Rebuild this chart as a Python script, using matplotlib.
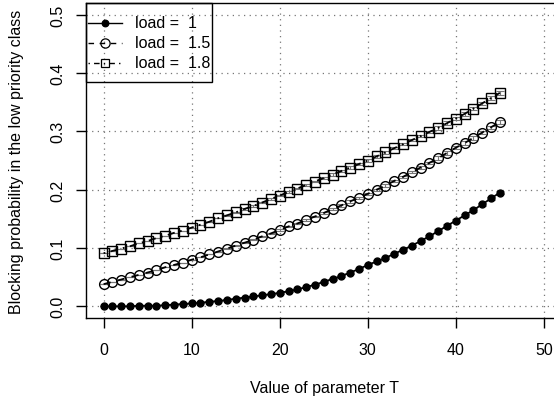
import matplotlib
matplotlib.use("Agg")
import matplotlib.pyplot as plt
from matplotlib.lines import Line2D
from matplotlib.patches import Rectangle

plt.rcParams['font.family'] = ['Liberation Sans', 'DejaVu Sans']

T = list(range(0, 46))

load_1 = [0.000, 0.000, 0.000, 0.000, 0.001, 0.001, 0.001, 0.002, 0.003, 0.004,
          0.005, 0.006, 0.008, 0.009, 0.011, 0.013, 0.015, 0.017, 0.019, 0.021,
          0.023, 0.026, 0.029, 0.033, 0.037, 0.042, 0.047, 0.052, 0.058, 0.064,
          0.071, 0.077, 0.083, 0.090, 0.097, 0.104, 0.112, 0.120, 0.129, 0.138,
          0.147, 0.156, 0.165, 0.175, 0.185, 0.195]
load_15 = [0.038, 0.042, 0.046, 0.050, 0.054, 0.058, 0.062, 0.067, 0.071, 0.075,
           0.080, 0.084, 0.089, 0.094, 0.099, 0.104, 0.109, 0.114, 0.120, 0.125,
           0.131, 0.137, 0.142, 0.148, 0.154, 0.160, 0.167, 0.173, 0.180, 0.186,
           0.193, 0.200, 0.207, 0.215, 0.222, 0.230, 0.238, 0.246, 0.254, 0.263,
           0.272, 0.280, 0.289, 0.298, 0.307, 0.316]
load_18 = [0.091, 0.095, 0.099, 0.103, 0.108, 0.112, 0.117, 0.121, 0.126, 0.130,
           0.135, 0.140, 0.145, 0.151, 0.156, 0.161, 0.167, 0.172, 0.178, 0.184,
           0.190, 0.196, 0.202, 0.208, 0.214, 0.220, 0.226, 0.232, 0.238, 0.244,
           0.250, 0.257, 0.264, 0.271, 0.278, 0.285, 0.292, 0.299, 0.306, 0.314,
           0.322, 0.330, 0.339, 0.348, 0.357, 0.366]

# small confidence half-widths (estimated, grow with T)
err = [0.000, 0.000, 0.000, 0.000, 0.000, 0.000, 0.000, 0.000, 0.000, 0.000,
       0.000, 0.000, 0.000, 0.000, 0.001, 0.001, 0.001, 0.001, 0.001, 0.001,
       0.001, 0.001, 0.001, 0.001, 0.001, 0.002, 0.002, 0.002, 0.002, 0.002,
       0.002, 0.002, 0.002, 0.002, 0.002, 0.002, 0.002, 0.002, 0.003, 0.003,
       0.003, 0.003, 0.003, 0.003, 0.003, 0.003]

legend_labels = ["load =  1", "load =  1.5", "load =  1.8"]
x_ticks = [0, 10, 20, 30, 40, 50]
y_ticks = [0.0, 0.1, 0.2, 0.3, 0.4, 0.5]

FS = 11.5
W, H = 554, 402

fig = plt.figure(figsize=(W / 100, H / 100), dpi=100)
ax = fig.add_axes([86 / W, 83 / H, (561.5 - 86) / W, 315 / H])

ax.set_xlim(-2, 52)
ax.set_ylim(-0.02, 0.52)

for xv in x_ticks:
    ax.axvline(xv, color='#777777', lw=0.9, ls=(0, (1, 3.5)), zorder=0)
for yv in y_ticks:
    ax.axhline(yv, color='#777777', lw=0.9, ls=(0, (1, 3.5)), zorder=0)

series = [
    (load_1, 'o', 'black', '-', 5.0),
    (load_15, 'o', 'none', (0, (4, 4)), 7.0),
    (load_18, 's', 'none', (0, (1, 3, 4, 3)), 6.5),
]
for vals, mk, fc, ls, ms in series:
    ax.errorbar(T, vals, yerr=err, fmt='none', ecolor='#777777', elinewidth=0.8,
                capsize=3, capthick=0.8, zorder=2)
    ax.plot(T, vals, color='black', lw=1.3, ls=ls, zorder=3)
    ax.plot(T, vals, ls='none', marker=mk, ms=ms, mfc=fc, mec='black',
            mew=1.0, zorder=4)


def fx(px):
    return px / W


def fy(py):
    return 1 - py / H


# legend (R style, transparent background, top-left)
fig.add_artist(Rectangle((fx(86), fy(83)), fx(212) - fx(86), fy(4) - fy(83),
                         transform=fig.transFigure, fill=False,
                         edgecolor='black', lw=1.0, zorder=5))
row_y = [24, 44, 64]
for (vals, mk, fc, ls, ms), lab, ry in zip(series, legend_labels, row_y):
    fig.add_artist(Line2D([fx(88), fx(122)], [fy(ry), fy(ry)],
                          transform=fig.transFigure, color='black', lw=1.0,
                          ls=ls, zorder=5))
    fig.add_artist(Line2D([fx(105)], [fy(ry)], transform=fig.transFigure,
                          ls='none', marker=mk, ms=ms * 0.95, mfc=fc,
                          mec='black', mew=0.9, zorder=6))
    fig.text(fx(135), fy(ry), lab, ha='left', va='center', fontsize=FS,
             zorder=6)

ax.set_xticks(x_ticks)
ax.set_yticks(y_ticks)
ax.set_xticklabels([str(v) for v in x_ticks])
ax.set_yticklabels([f"{v:.1f}" for v in y_ticks], rotation=90, va='center')
ax.tick_params(axis='both', direction='out', length=7, width=1.0,
               labelsize=FS, colors='black')
ax.tick_params(axis='x', pad=10)
ax.tick_params(axis='y', pad=8)
for sp in ax.spines.values():
    sp.set_color('black')
    sp.set_linewidth(1.0)

fig.text(fx(324), fy(389), "Value of parameter T", ha='center',
         va='center', fontsize=FS)
fig.text(fx(17), fy(161.5), "Blocking probability in the low priority class",
         ha='center', va='center', rotation=90, fontsize=FS)

fig.savefig("out.png", dpi=100)
